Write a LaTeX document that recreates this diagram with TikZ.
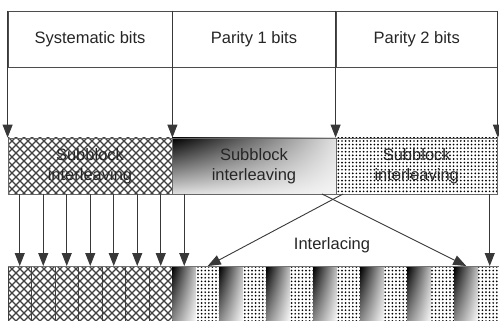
\documentclass[tikz,border=0pt]{standalone}
\usepackage{fontspec}
\setmainfont{Liberation Sans}
\usetikzlibrary{arrows.meta,patterns,shadings}

\pgfdeclarepatternformonly{diamonds}{\pgfqpoint{-1pt}{-1pt}}{\pgfqpoint{9pt}{9pt}}{\pgfqpoint{8pt}{8pt}}{%
  \pgfsetlinewidth{1.1pt}%
  \pgfpathmoveto{\pgfqpoint{0pt}{0pt}}\pgfpathlineto{\pgfqpoint{8pt}{8pt}}%
  \pgfpathmoveto{\pgfqpoint{0pt}{8pt}}\pgfpathlineto{\pgfqpoint{8pt}{0pt}}%
  \pgfusepath{stroke}}
\pgfdeclarepatternformonly{bigdots}{\pgfqpoint{-1.2pt}{-1.2pt}}{\pgfqpoint{1.2pt}{1.2pt}}{\pgfqpoint{3.6pt}{3.6pt}}{%
  \pgfpathcircle{\pgfpointorigin}{0.95pt}\pgfusepath{fill}}

\tikzset{
  ln/.style={draw=black!78, line width=0.9pt},
  arr/.style={ln, -{Triangle[width=10pt,length=13pt]}},
  lbl/.style={font=\fontsize{16.5}{19.5}\selectfont, text=black!85},
  hdr/.style={lbl, draw=black!70, line width=0.8pt, minimum width=164pt, minimum height=56pt, inner sep=0pt},
  sbk/.style={lbl, draw=black!60, line width=0.8pt, minimum width=164pt, minimum height=56pt, inner sep=0pt, align=center},
  hatchfill/.style={pattern=diamonds, pattern color=black!75},
  dotfill/.style={pattern=bigdots, pattern color=black},
  gradfill/.style={upper left=black, upper right=black!25, lower left=black!40, lower right=white},
  cell/.style={minimum width=23.5pt, minimum height=60pt, inner sep=0pt, anchor=north},
}

\begin{document}
\begin{tikzpicture}[x=1pt, y=-1pt]
\useasboundingbox (0,0) rectangle (499,321);
\fill[white] (0,0) rectangle (499,321);

% header
\node[hdr] (h1) at (90,39) {Systematic bits};
\node[hdr] (h2) at (254,39) {Parity 1 bits};
\node[hdr, minimum width=161.5pt] (h3) at (416.75,39) {Parity 2 bits};

% subblock boxes
\node[sbk, hatchfill] (s1) at (90,166) {};
\node[sbk, upper left=black, upper right=black!12, lower left=black!12, lower right=black!4] (s2) at (254,166) {};
\node[sbk, dotfill, minimum width=161.5pt] (s3) at (416.75,166) {};
\node[lbl, align=center] at (s1) {Subblock\\interleaving};
\node[lbl, align=center] at (s2) {Subblock\\interleaving};
\node[lbl, align=center] at (s3) {Subblock\\interleaving};

% arrows from header to subblock boxes
\draw[arr] (h1.north west) -- (s1.north west);
\draw[arr] (h1.north east) -- (s1.north east);
\draw[arr] (h3.north west) -- (s3.north west);
\draw[arr] (h3.north east) -- (s3.north east);

% bottom row
\begin{scope}
\clip (0,0) rectangle (499,321);
\foreach \i in {0,...,20} {
  \pgfmathsetmacro{\cx}{8+23.5*\i+11.75}
  \ifnum\i<7
    \node[cell, hatchfill, draw=black!75, line width=0.8pt] (c\i) at (\cx,266) {};
  \else
    \pgfmathtruncatemacro{\k}{mod(\i-7,2)}
    \ifnum\k=0
      \node[cell, gradfill] (c\i) at (\cx,266) {};
    \else
      \node[cell, dotfill] (c\i) at (\cx,266) {};
    \fi
  \fi
}
\draw[draw=black!55, line width=0.8pt] (c0.north west) -- (c20.north east);
\end{scope}

% systematic arrows
\foreach \i in {0,...,7} {
  \draw[arr] (c\i.north |- s1.south) -- (c\i.north);
}

% interlacing arrows
\coordinate (ia) at (322,194);
\coordinate (ib) at (343,194);
\draw[arr] (ia) -- (c19.north);
\draw[arr] (ib) -- (c8.north);
\draw[arr] (c20.north |- s3.south) -- (c20.north);
\node[lbl] (il) at (332,245) {Interlacing};
\end{tikzpicture}
\end{document}
